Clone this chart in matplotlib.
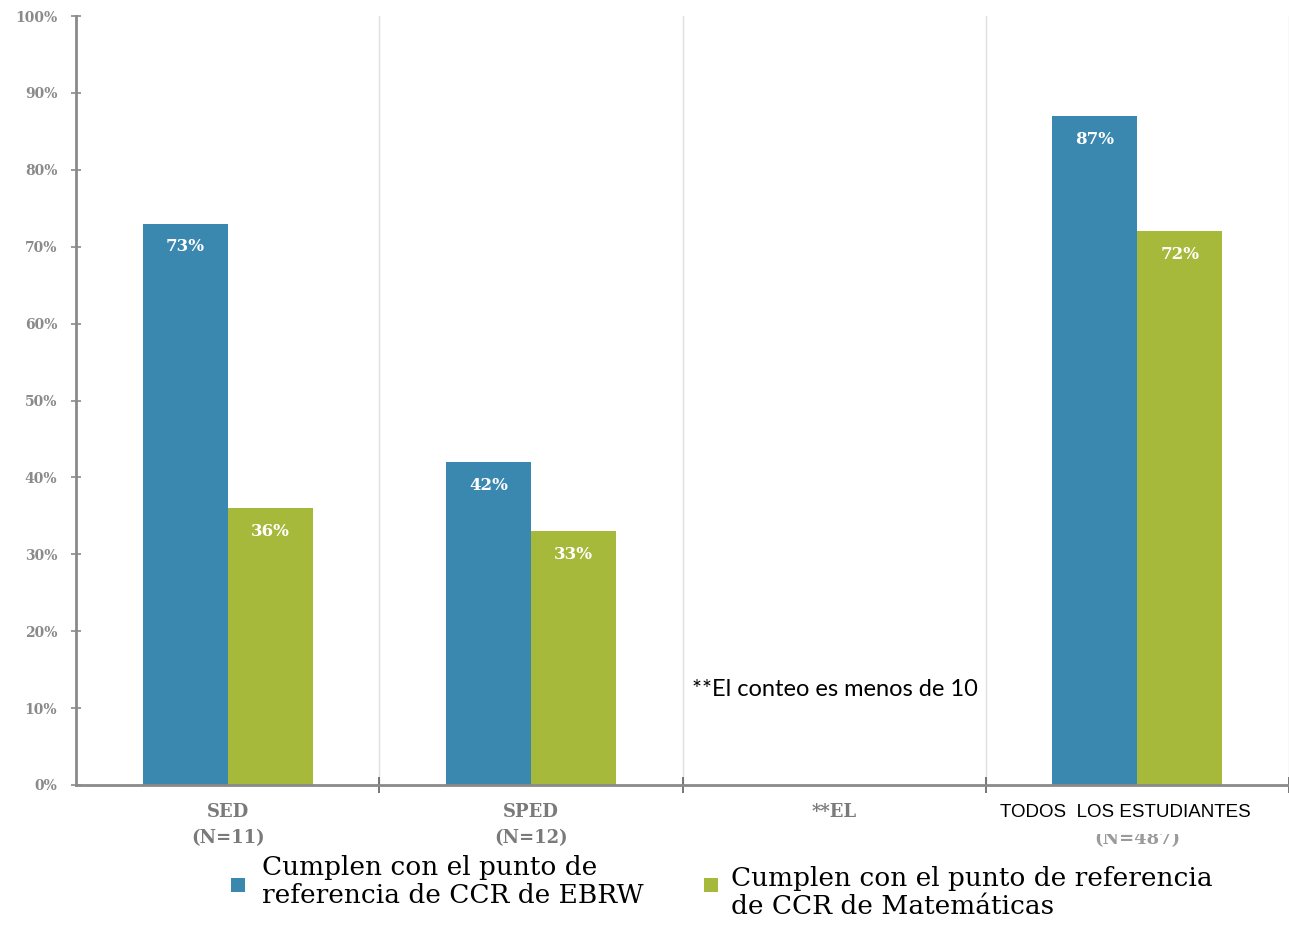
import numpy as np
import matplotlib.pyplot as plt
from matplotlib.patches import Rectangle

# ---- data ----
groups = ["SED\n(N=11)", "SPED\n(N=12)", "**EL", "TODOS  LOS ESTUDIANTES"]
ebrw = [73, 42, None, 87]
math = [36, 33, None, 72]
yticks = [0, 10, 20, 30, 40, 50, 60, 70, 80, 90, 100]
legend_labels = ["Cumplen con el punto de\nreferencia de CCR de EBRW",
                 "Cumplen con el punto de referencia\nde CCR de Matemáticas"]

BLUE = "#3a87b0"
GREEN = "#a6b93a"
GREY = "#8a8a8a"

fig = plt.figure(figsize=(12.89, 9.26), dpi=100)
ax = fig.add_axes([76 / 1289, 141 / 926, 1 - 76 / 1289, 769 / 926])

x = np.arange(len(groups))
w = 0.28
for i in range(len(groups)):
    if ebrw[i] is not None:
        ax.bar(x[i] - w / 2, ebrw[i], w, color=BLUE)
        ax.text(x[i] - w / 2, ebrw[i] - 3, f"{ebrw[i]}%", ha="center", va="center",
                color="white", fontsize=12, fontweight="bold", family="DejaVu Serif")
    if math[i] is not None:
        ax.bar(x[i] + w / 2, math[i], w, color=GREEN)
        ax.text(x[i] + w / 2, math[i] - 3, f"{math[i]}%", ha="center", va="center",
                color="white", fontsize=12, fontweight="bold", family="DejaVu Serif")

# category separators
for b in np.arange(len(groups)) + 0.5:
    ax.axvline(b, color="#e0e0e0", lw=1, zorder=0)

ax.set_xlim(-0.5, -0.5 + (1289 - 76) / 305)
ax.set_ylim(0, 100)
ax.set_yticks(yticks)
ax.set_yticklabels([f"{t}%" for t in yticks], fontsize=10, fontweight="bold",
                   color=GREY, family="DejaVu Serif")
ax.set_xticks(np.arange(len(groups)) + 0.5)
ax.set_xticklabels([])
ax.tick_params(axis="y", direction="inout", length=7, color=GREY, width=1.2, pad=10)
ax.tick_params(axis="x", direction="inout", length=12, color="#606060", width=1.2)
for s in ["top", "right"]:
    ax.spines[s].set_visible(False)
ax.spines["left"].set_color(GREY)
ax.spines["left"].set_linewidth(2)
ax.spines["bottom"].set_color(GREY)
ax.spines["bottom"].set_linewidth(2)

# category labels
for i, g in enumerate(groups[:3]):
    ax.text(x[i], -2.4, g, ha="center", va="top",
            fontsize=13, fontweight="bold", color="#7a7a7a", family="DejaVu Serif",
            linespacing=1.55, clip_on=False)
ax.text(x[3], -5.9, "(N=487)", ha="center", va="top", fontsize=13,
        fontweight="bold", color="#9a9a9a", family="DejaVu Serif", clip_on=False)
ax.text(x[3] - 0.04, -3.6, groups[3], ha="center", va="center", fontsize=13.5,
        family="Liberation Sans", color="black", clip_on=False, zorder=5,
        bbox=dict(facecolor="white", edgecolor="none", pad=9))

ax.text(2.0 - 0.5 + 0.03, 12.4, "**El conteo es menos de 10", ha="left", va="center",
        fontsize=17, family="Lato", color="black")

# legend
fig.patches.append(Rectangle((231, 926 - 892), 14, 14, transform=None,
                             facecolor=BLUE, edgecolor="none"))
fig.patches.append(Rectangle((704, 926 - 892), 14, 14, transform=None,
                             facecolor=GREEN, edgecolor="none"))
fig.text(262 / 1289, 1 - 855 / 926, legend_labels[0], ha="left", va="top",
         fontsize=19, family="DejaVu Serif", linespacing=1.15)
fig.text(731 / 1289, 1 - 866 / 926, legend_labels[1], ha="left", va="top",
         fontsize=19, family="DejaVu Serif", linespacing=1.15)

fig.savefig("out.png", dpi=100, facecolor="white")
